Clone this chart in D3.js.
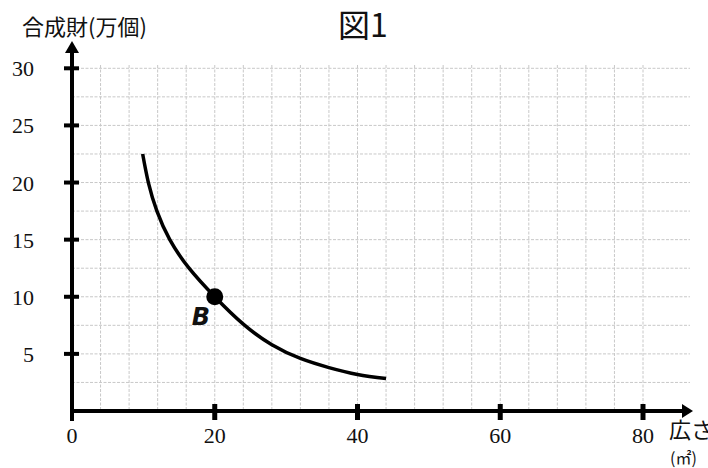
<!DOCTYPE html>
<html>
<head>
<meta charset="utf-8">
<script src="https://cdn.jsdelivr.net/npm/d3@7.9.0/dist/d3.min.js"></script>
<style>
  body { margin: 0; background: #fff; }
  svg { display: block; }
</style>
</head>
<body>
<svg id="chart" width="708" height="468"></svg>
<script>
// curve
const curveX = [9.9, 10.7, 11.9, 13.7, 16.4, 20, 24, 28, 32, 36, 40, 44];
const curveY = [22.5, 20, 17.5, 15, 12.5, 10, 7.6, 5.8, 4.6, 3.8, 3.2, 2.85];
const pointB = { x: 20, y: 10, label: 'B' };
const xTicks = [0, 20, 40, 60, 80];
const yTicks = [5, 10, 15, 20, 25, 30];
const xGrid = d3.range(0, 81, 4);
const yGrid = d3.range(0, 30.1, 2.5);

const serif = '"Liberation Serif"';
const jp = '"Noto Sans CJK JP"';

const svg = d3.select('#chart');
const x = d3.scaleLinear().domain([0, 80]).range([72, 643]);
const y = d3.scaleLinear().domain([0, 30]).range([411, 68.3]);

// grid
const grid = svg.append('g').attr('stroke', '#c8c8c8').attr('stroke-width', 1)
  .attr('stroke-dasharray', '3,1.5');
grid.selectAll('.gx').data(xGrid.filter(d => d > 0)).enter().append('line')
  .attr('x1', d => x(d)).attr('x2', d => x(d))
  .attr('y1', 65).attr('y2', y(0));
grid.selectAll('.gy').data(yGrid.filter(d => d > 0)).enter().append('line')
  .attr('x1', x(0)).attr('x2', 690)
  .attr('y1', d => y(d)).attr('y2', d => y(d));

// axes
svg.append('line').attr('x1', x(0)).attr('x2', 682).attr('y1', y(0)).attr('y2', y(0))
  .attr('stroke', '#000').attr('stroke-width', 4);
svg.append('path').attr('d', `M682,${y(0) - 7}L693,${y(0)}L682,${y(0) + 7}Z`).attr('fill', '#000');
svg.append('line').attr('x1', x(0)).attr('x2', x(0)).attr('y1', 421).attr('y2', 52)
  .attr('stroke', '#000').attr('stroke-width', 4);
svg.append('path').attr('d', `M${x(0) - 7},53L${x(0)},41L${x(0) + 7},53Z`).attr('fill', '#000');

// ticks
svg.selectAll('.xt').data(xTicks.filter(d => d > 0)).enter().append('line')
  .attr('x1', d => x(d)).attr('x2', d => x(d)).attr('y1', y(0) - 7).attr('y2', y(0) + 9)
  .attr('stroke', '#000').attr('stroke-width', 5);
svg.selectAll('.yt').data(yTicks).enter().append('line')
  .attr('x1', x(0) - 8).attr('x2', x(0) + 7).attr('y1', d => y(d)).attr('y2', d => y(d))
  .attr('stroke', '#000').attr('stroke-width', 4);

svg.selectAll('.xl').data(xTicks).enter().append('text')
  .style('font-family', serif).style('font-size', '22px').attr('fill', '#111')
  .attr('text-anchor', 'middle')
  .attr('x', d => x(d)).attr('y', 443).text(d => d);
svg.selectAll('.yl').data(yTicks).enter().append('text')
  .style('font-family', serif).style('font-size', '22px').attr('fill', '#111')
  .attr('text-anchor', 'end')
  .attr('x', 34).attr('y', d => y(d) + 8).text(d => d);

// curve
const pts = curveX.map((v, i) => [v, curveY[i]]);
svg.append('path').datum(pts)
  .attr('d', d3.line().x(d => x(d[0])).y(d => y(d[1])).curve(d3.curveNatural))
  .attr('fill', 'none').attr('stroke', '#000').attr('stroke-width', 3.5);

svg.append('circle').attr('cx', x(pointB.x)).attr('cy', y(pointB.y)).attr('r', 8.5).attr('fill', '#000');
svg.append('text').attr('x', x(pointB.x) - 23).attr('y', y(pointB.y) + 28)
  .style('font-family', '"DejaVu Sans"').attr('font-weight', 'bold')
  .attr('font-style', 'italic').attr('font-size', 24).attr('fill', '#111').text(pointB.label);

// titles
svg.append('text').style('font-family', jp).attr('fill', '#111').attr('x', 363).attr('y', 37)
  .attr('text-anchor', 'middle').attr('font-size', 32).text('図1');
svg.append('text').style('font-family', jp).attr('fill', '#111').attr('x', 22).attr('y', 35)
  .attr('font-size', 22).text('合成財(万個)');
svg.append('text').style('font-family', jp).attr('fill', '#111').attr('x', 669).attr('y', 438)
  .attr('font-size', 22).text('広さ');
svg.append('text').style('font-family', jp).attr('fill', '#111').attr('x', 670).attr('y', 464)
  .attr('font-size', 16).text('(㎡)');
</script>
</body>
</html>
